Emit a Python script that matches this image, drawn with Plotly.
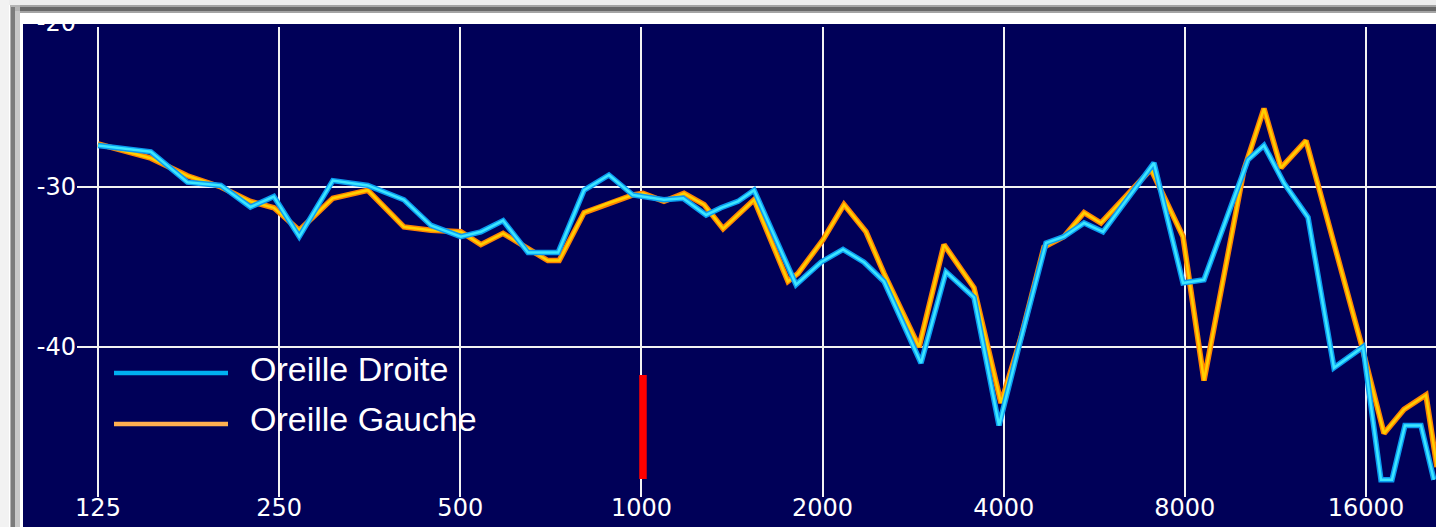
import plotly.graph_objects as go

# ---------------- data ----------------
series_droite = "Oreille Droite"
series_gauche = "Oreille Gauche"

freq_droite = [125, 153, 176, 200, 224, 245, 270, 307, 351, 403, 447, 501, 541, 589, 648, 727,
               803, 883, 968, 1090, 1173, 1281, 1356, 1447, 1539, 1807, 1988, 2163, 2344, 2530,
               2915, 3207, 3570, 3929, 4225, 4703, 5039, 5440, 5849, 7109, 7944, 8609, 10188,
               10830, 11691, 12818, 14156, 15819, 16945, 17673, 18575, 19748, 20750]
db_droite = [-27.4, -27.8, -29.7, -29.9, -31.25, -30.6, -33.1, -29.6, -29.9, -30.8, -32.4, -33.1,
             -32.8, -32.1, -34.1, -34.1, -30.2, -29.25, -30.5, -30.8, -30.7, -31.75, -31.3, -30.9,
             -30.2, -36.1, -34.7, -33.9, -34.7, -35.9, -41.0, -35.3, -36.9, -44.9, -40.2, -33.5,
             -33.1, -32.25, -32.8, -28.5, -36.0, -35.8, -28.3, -27.4, -29.75, -31.9, -41.3, -40.0,
             -48.3, -48.3, -44.9, -44.9, -48.3]

freq_gauche = [125, 153, 176, 200, 224, 245, 270, 307, 351, 403, 447, 501, 541, 589, 699, 730,
               803, 883, 968, 1006, 1090, 1177, 1271, 1367, 1539, 1752, 1821, 2003, 2171, 2362,
               2530, 2893, 3183, 3570, 3959, 4273, 4667, 5039, 5440, 5804, 7028, 7944, 8609,
               10034, 10830, 11559, 12720, 15700, 17142, 18506, 20131, 20994]
db_gauche = [-27.3, -28.2, -29.3, -30.0, -30.9, -31.3, -32.7, -30.7, -30.2, -32.5, -32.7, -32.8,
             -33.6, -32.9, -34.6, -34.6, -31.6, -31.0, -30.5, -30.4, -30.9, -30.4, -31.1, -32.6,
             -30.8, -35.9, -35.4, -33.3, -31.1, -32.8, -35.4, -40.0, -33.6, -36.3, -43.5, -39.4,
             -33.75, -33.1, -31.6, -32.25, -28.9, -33.1, -42.1, -28.9, -25.1, -28.8, -27.1,
             -39.75, -45.4, -43.9, -43.0, -47.5]

marker_freq = [1006, 1006]
marker_db = [-41.75, -48.25]

x_tick_vals = [125, 250, 500, 1000, 2000, 4000, 8000, 16000]
x_tick_text = ["125", "250", "500", "1000", "2000", "4000", "8000", "16000"]
y_tick_vals = [-40, -30]
y_tick_top = [-20]

# ---------------- layout geometry ----------------
W, H = 1436, 527
L, R, T, B = 77, 0, 27, 30
NAVY = "#000058"


def px_x(px):
    return (px - L) / (W - L - R)


def px_y(py):
    return (H - B - py) / (H - T - B)


fig = go.Figure()

# orange (left ear): outer glow + core
fig.add_trace(go.Scatter(x=freq_gauche, y=db_gauche, mode="lines",
                         line=dict(color="#ff8400", width=5.5), showlegend=False, hoverinfo="skip"))
fig.add_trace(go.Scatter(x=freq_gauche, y=db_gauche, mode="lines", name=series_gauche,
                         line=dict(color="#ffd000", width=2.5), showlegend=False))
# cyan (right ear): outer glow + core
fig.add_trace(go.Scatter(x=freq_droite, y=db_droite, mode="lines",
                         line=dict(color="#0a9cf0", width=5.5), showlegend=False, hoverinfo="skip"))
fig.add_trace(go.Scatter(x=freq_droite, y=db_droite, mode="lines", name=series_droite,
                         line=dict(color="#3ce6ff", width=2.5), showlegend=False))
# red marker at 1000 Hz
fig.add_trace(go.Scatter(x=marker_freq, y=marker_db, mode="lines",
                         line=dict(color="#ff0000", width=7.5), showlegend=False, hoverinfo="skip"))

# dummy trace for the secondary y axis that carries the clipped "-20" label
fig.add_trace(go.Scatter(x=[None], y=[None], yaxis="y2", showlegend=False, hoverinfo="skip"))

tick_font = dict(family="DejaVu Sans", size=24, color="#ffffff")

yrange = [-49.375, -20]
fig.update_layout(
    width=W, height=H,
    margin=dict(l=L, r=R, t=T, b=B, pad=0),
    paper_bgcolor=NAVY, plot_bgcolor=NAVY,
    xaxis=dict(type="log", range=[2.0620, 4.3205], tickvals=x_tick_vals, ticktext=x_tick_text,
               showgrid=True, gridcolor="#f2f2f2", gridwidth=2, zeroline=False, showline=False,
               ticks="", tickfont=tick_font, ticklabelstandoff=-6, fixedrange=True),
    yaxis=dict(range=yrange, tickvals=y_tick_vals, ticktext=[str(v) for v in y_tick_vals],
               showgrid=True, gridcolor="#f2f2f2", gridwidth=2, zeroline=False, showline=False,
               ticks="", tickfont=tick_font, fixedrange=True),
    yaxis2=dict(range=yrange, overlaying="y", side="left", anchor="x",
                tickvals=y_tick_top, ticktext=[str(v) for v in y_tick_top],
                showgrid=False, zeroline=False, showline=False, ticks="", tickfont=tick_font,
                ticklabelshift=-4, fixedrange=True),
    showlegend=False,
)

shapes = []


def rect(x0, y0, x1, y1, color):
    shapes.append(dict(type="rect", xref="paper", yref="paper",
                       x0=px_x(x0), x1=px_x(x1), y0=px_y(y1), y1=px_y(y0),
                       fillcolor=color, line=dict(width=0), layer="above"))


# window frame (app screenshot border)
rect(0, 0, W, 24, "#ffffff")
rect(0, 0, 23, H, "#ffffff")
rect(0, 0, W, 5, "#ededed")
rect(0, 0, 9, H, "#f2f2f2")
rect(10, 5, W, 13, "#a4a4a4")
rect(10, 7, W, 11, "#686868")
rect(10, 5, 20, H, "#b4b4b4")
rect(11, 7, 15, H, "#7c7c7c")
rect(15, 11, 20, H, "#c8c8c8")

# legend samples
for yy, col in ((373, "#00b0f0"), (424, "#ffb050")):
    shapes.append(dict(type="line", xref="paper", yref="paper",
                       x0=px_x(114), x1=px_x(228), y0=px_y(yy), y1=px_y(yy),
                       line=dict(color=col, width=4.5), layer="above"))

fig.update_layout(shapes=shapes)

for name, yy in ((series_droite, 369), (series_gauche, 419)):
    fig.add_annotation(x=px_x(248), y=px_y(yy), xref="paper", yref="paper",
                       text=name, showarrow=False, xanchor="left", yanchor="middle",
                       font=dict(family="Liberation Sans", size=34, color="#ffffff"))

fig.write_html("out.html")
